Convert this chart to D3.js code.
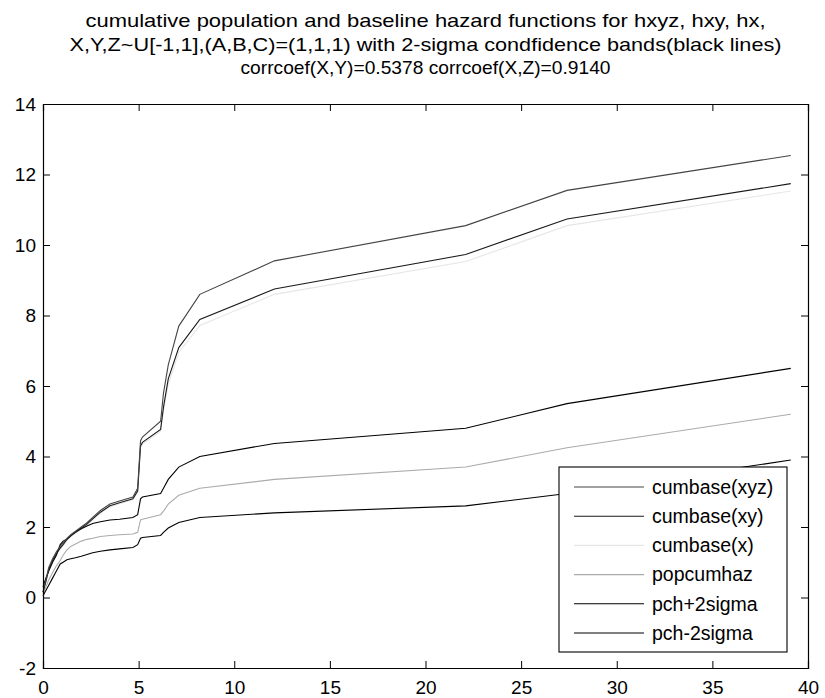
<!DOCTYPE html>
<html>
<head>
<meta charset="utf-8">
<script src="https://cdn.jsdelivr.net/npm/d3@7"></script>
<style>
  html, body { margin: 0; padding: 0; background: #fff; }
  text { font-family: "Liberation Sans", Arial, Helvetica, sans-serif; fill: #000; }
</style>
</head>
<body>
<svg id="chart" width="825" height="698"></svg>
<script>
// Time grid shared by all curves
const times = [0, 0.15, 0.3, 0.5, 0.7, 0.9, 1.05, 1.25, 1.45, 1.7, 2.0, 2.3, 2.6, 3.0, 3.5, 4.0, 4.7, 4.95, 5.1, 5.2, 6.15, 6.3, 6.55, 7.1, 8.2, 12.1, 22.1, 27.4, 39.1];

// Cumulative baseline hazards
const cumbaseXYZ = [0.15, 0.5, 0.85, 1.1, 1.3, 1.45, 1.55, 1.68, 1.78, 1.88, 2.0, 2.12, 2.27, 2.47, 2.65, 2.74, 2.85, 3.1, 4.45, 4.55, 5.0, 5.8, 6.6, 7.7, 8.6, 9.55, 10.55, 11.55, 12.54];
const cumbaseXY  = [0.15, 0.45, 0.8, 1.05, 1.25, 1.4, 1.5, 1.65, 1.75, 1.86, 1.97, 2.08, 2.23, 2.42, 2.6, 2.69, 2.8, 3.02, 4.3, 4.4, 4.77, 5.4, 6.2, 7.09, 7.89, 8.75, 9.73, 10.74, 11.74];
const cumbaseX   = [0.12, 0.42, 0.77, 1.02, 1.22, 1.37, 1.47, 1.62, 1.72, 1.83, 1.94, 2.05, 2.2, 2.39, 2.57, 2.66, 2.77, 3.0, 4.25, 4.35, 4.72, 5.3, 6.05, 6.95, 7.72, 8.6, 9.53, 10.55, 11.53];

// Population cumulative hazard and its 2-sigma band
const popcumhaz  = [0.1, 0.3, 0.5, 0.7, 0.9, 1.05, 1.2, 1.35, 1.45, 1.52, 1.6, 1.65, 1.68, 1.73, 1.76, 1.78, 1.8, 1.85, 2.2, 2.22, 2.35, 2.45, 2.65, 2.9, 3.1, 3.35, 3.7, 4.25, 5.2];
const pchPlus    = [0.3, 0.55, 0.75, 1.0, 1.2, 1.5, 1.6, 1.65, 1.75, 1.85, 1.95, 2.03, 2.1, 2.15, 2.2, 2.22, 2.27, 2.35, 2.8, 2.85, 2.95, 3.1, 3.35, 3.7, 4.0, 4.37, 4.8, 5.5, 6.5];
const pchMinus   = [0.05, 0.2, 0.35, 0.55, 0.75, 0.95, 1.0, 1.07, 1.1, 1.13, 1.17, 1.22, 1.27, 1.31, 1.35, 1.38, 1.42, 1.5, 1.68, 1.7, 1.76, 1.85, 1.97, 2.13, 2.27, 2.4, 2.6, 2.95, 3.9];

const seriesNames  = ["cumbase(xyz)", "cumbase(xy)", "cumbase(x)", "popcumhaz", "pch+2sigma", "pch-2sigma"];
const seriesValues = [cumbaseXYZ, cumbaseXY, cumbaseX, popcumhaz, pchPlus, pchMinus];
const seriesColors = ["#444444", "#1a1a1a", "#e6e6e6", "#ababab", "#000000", "#000000"];

const xTicks = [0, 5, 10, 15, 20, 25, 30, 35, 40];
const yTicks = [-2, 0, 2, 4, 6, 8, 10, 12, 14];

const titleLines = [
  "cumulative population and baseline hazard functions for hxyz, hxy, hx,",
  "X,Y,Z~U[-1,1],(A,B,C)=(1,1,1) with 2-sigma condfidence bands(black lines)",
  "corrcoef(X,Y)=0.5378 corrcoef(X,Z)=0.9140"
];
const titleWidths = [680, 712, 370];

const svg = d3.select("#chart");
const plot = { left: 43, right: 808, top: 104, bottom: 668 };

const x = d3.scaleLinear().domain([0, 40]).range([plot.left, plot.right]);
const y = d3.scaleLinear().domain([-2, 14]).range([plot.bottom, plot.top]);

// Title, three centred lines
svg.append("g").selectAll("text").data(titleLines).join("text")
  .attr("x", (plot.left + plot.right) / 2)
  .attr("y", (d, i) => 27 + i * 23.5)
  .attr("text-anchor", "middle")
  .attr("textLength", (d, i) => titleWidths[i])
  .attr("lengthAdjust", "spacingAndGlyphs")
  .style("font-size", "19px")
  .text(d => d);

// Curves
const line = d3.line().x(d => x(d[0])).y(d => y(d[1]));
const drawOrder = [2, 3, 5, 4, 1, 0];
svg.append("g").selectAll("path").data(drawOrder).join("path")
  .attr("d", i => line(times.map((t, k) => [t, seriesValues[i][k]])))
  .attr("fill", "none")
  .attr("stroke", i => seriesColors[i])
  .attr("stroke-width", 1.1);

// Axes box with inward ticks on every side
const tickLen = 7;
const fmt = d => String(d);
const axB = svg.append("g").attr("transform", `translate(0,${plot.bottom})`)
  .call(d3.axisBottom(x).tickValues(xTicks).tickSize(-tickLen).tickPadding(10).tickFormat(fmt));
const axT = svg.append("g").attr("transform", `translate(0,${plot.top})`)
  .call(d3.axisTop(x).tickValues(xTicks).tickSize(-tickLen).tickFormat(""));
const axL = svg.append("g").attr("transform", `translate(${plot.left},0)`)
  .call(d3.axisLeft(y).tickValues(yTicks).tickSize(-tickLen).tickPadding(10).tickFormat(fmt));
const axR = svg.append("g").attr("transform", `translate(${plot.right},0)`)
  .call(d3.axisRight(y).tickValues(yTicks).tickSize(-tickLen).tickFormat(""));

[axB, axT, axL, axR].forEach(a => {
  a.select(".domain").attr("stroke", "#000").attr("stroke-width", 1.2);
  a.selectAll(".tick line").attr("stroke", "#000");
  a.selectAll(".tick text").style("font-size", "19px").style("font-family", "'Liberation Sans', Arial, sans-serif").attr("fill", "#000");
});
axB.selectAll(".tick text").attr("dy", "0.85em");
axL.selectAll(".tick text").attr("dx", "3px");

// Legend
const leg = { left: 559, top: 467, right: 787, bottom: 652 };
svg.append("rect")
  .attr("x", leg.left).attr("y", leg.top)
  .attr("width", leg.right - leg.left).attr("height", leg.bottom - leg.top)
  .attr("fill", "#fff").attr("stroke", "#000").attr("stroke-width", 1.1);

const legRows = svg.append("g").selectAll("g").data(seriesNames).join("g")
  .attr("transform", (d, i) => `translate(0,${487 + i * 29.2})`);
legRows.append("line")
  .attr("x1", 574).attr("x2", 644).attr("y1", 0).attr("y2", 0)
  .attr("stroke", (d, i) => seriesColors[i]).attr("stroke-width", 1.1);
legRows.append("text")
  .attr("x", 652).attr("y", 0).attr("dy", "0.35em")
  .style("font-size", "19.5px")
  .text(d => d);
</script>
</body>
</html>
